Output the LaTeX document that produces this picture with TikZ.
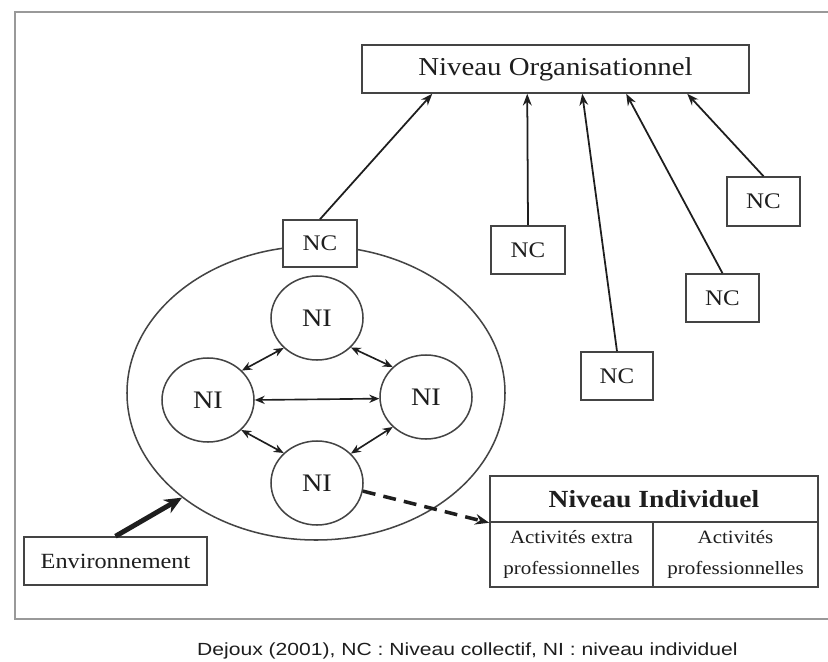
\documentclass[tikz,border=0pt]{standalone}
\usepackage{fontspec}
\setmainfont{Liberation Serif}[FakeStretch=1.12]
\newfontfamily\capfont{Liberation Sans}[FakeStretch=1.2]
\usetikzlibrary{shapes.geometric,arrows.meta,calc}
\def\pxu{0.03cm}
\definecolor{ink}{HTML}{1E1E1E}
\definecolor{edge}{HTML}{444444}
\tikzset{
  box/.style={draw=edge,line width=1.3pt,fill=white,inner sep=0pt,text=ink,rectangle},
  ni/.style={draw=edge,line width=1.3pt,ellipse,inner sep=0pt,text=ink,
    minimum width=92*\pxu,minimum height=84*\pxu,font=\fontsize{21.5}{24}\selectfont},
  ncbox/.style={box,font=\fontsize{19}{22}\selectfont},
  up/.style={-{Stealth[length=10pt,width=7.5pt]},line width=1.5pt,draw=ink},
  both/.style={{Stealth[length=8.5pt,width=7pt]}-{Stealth[length=8.5pt,width=7pt]},line width=1.4pt,draw=ink},
  dasharrow/.style={-{Stealth[length=12pt,width=9pt]},line width=3pt,draw=ink,dash pattern=on 11pt off 7pt},
  envarrow/.style={-{Stealth[length=15pt,width=13pt]},line width=4.2pt,draw=ink},
  framestyle/.style={draw=black!40,line width=2pt}
}
\begin{document}
\begin{tikzpicture}[x=0.03cm,y=-0.03cm]
\fill[white] (0,0) rectangle (828,661);
\useasboundingbox (0,0) rectangle (828,661);
\draw[framestyle] (15,12) rectangle (845,619);

% top box
\node[box,minimum width=387*\pxu,minimum height=48*\pxu,font=\fontsize{22}{24}\selectfont] (org) at (555.5,69) {Niveau Organisationnel};

% big ellipse
\node[draw=edge,line width=1.3pt,ellipse,inner sep=0pt,minimum width=378*\pxu,minimum height=294*\pxu] (ell) at (316,393) {};

% NC boxes
\node[ncbox,minimum width=74*\pxu,minimum height=47*\pxu] (nc0) at (320,243.5) {NC};
\node[ncbox,minimum width=74*\pxu,minimum height=48*\pxu] (nc1) at (528,250) {NC};
\node[ncbox,minimum width=72*\pxu,minimum height=48*\pxu] (nc2) at (617,376) {NC};
\node[ncbox,minimum width=73*\pxu,minimum height=48*\pxu] (nc3) at (722.5,298) {NC};
\node[ncbox,minimum width=73*\pxu,minimum height=49*\pxu] (nc4) at (763.5,201.5) {NC};

% arrows to organisational level
\draw[up] (nc0.north) -- ($(org.south west)+(71,0)$);
\draw[up] (nc1.north) -- ($(org.south west)+(166,0)$);
\draw[up] (nc2.north) -- ($(org.south west)+(221,0)$);
\draw[up] (nc3.north) -- ($(org.south west)+(265,0)$);
\draw[up] (nc4.north) -- ($(org.south west)+(326,0)$);

% NI circles
\node[ni] (nt) at (317,318) {NI};
\node[ni] (nl) at (208,400) {NI};
\node[ni] (nr) at (426,397) {NI};
\node[ni] (nb) at (317,483) {NI};

\draw[both] (nl.41) -- (nt.222);
\draw[both] (nt.319) -- (nr.138);
\draw[both] (nl.0) -- (nr.182);
\draw[both] (nl.318) -- (nb.138);
\draw[both] (nb.41) -- (nr.222);

% environment
\node[box,minimum width=183*\pxu,minimum height=48*\pxu,font=\fontsize{18.5}{21}\selectfont] (env) at (115.5,561) {Environnement};
\draw[envarrow] (env.north) -- (ell.218);

% individual level table
\node[box,minimum width=328*\pxu,minimum height=46*\pxu,font=\bfseries\fontsize{21}{24}\selectfont] (title) at (654,499) {Niveau Individuel};
\node[box,minimum width=163*\pxu,minimum height=65*\pxu,align=center,font=\fontsize{16}{27}\selectfont] (cella) at (571.5,554.5) {Activités extra\\professionnelles};
\node[box,minimum width=165*\pxu,minimum height=65*\pxu,align=center,font=\fontsize{16}{27}\selectfont] (cellb) at (735.5,554.5) {Activités\\professionnelles};

\draw[dasharrow] (nb.350) -- (title.south west);

% caption
\node[text=ink,font=\capfont\fontsize{15}{18}\selectfont,anchor=base west,inner sep=0pt] (cap) at (197,655) {Dejoux (2001), NC : Niveau collectif, NI : niveau individuel};
\end{tikzpicture}
\end{document}
